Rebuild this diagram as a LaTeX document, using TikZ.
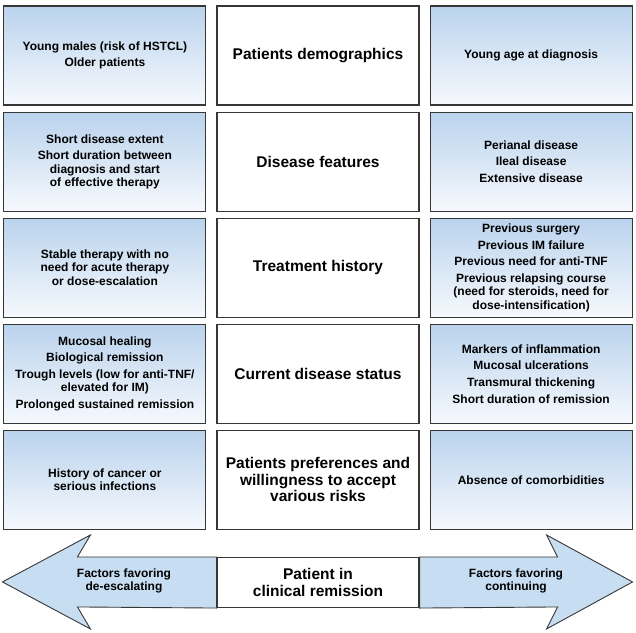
\documentclass[tikz,border=0pt]{standalone}
\usepackage{fontspec}
\setmainfont{Liberation Sans}
\usetikzlibrary{positioning}
\definecolor{factorblue}{RGB}{186, 211, 237}
\definecolor{fadeblue}{RGB}{246, 249, 253}
\definecolor{arrowblue}{RGB}{199, 221, 242}
\definecolor{edgegray}{RGB}{55, 55, 55}
\tikzset{
  cellbase/.style={draw=edgegray, line width=1.1pt, minimum width=202pt, minimum height=99pt, align=center, inner sep=2pt},
  factorbox/.style={cellbase, top color=factorblue, bottom color=fadeblue, font=\fontsize{12}{13.3}\selectfont\bfseries},
  domainbox/.style={cellbase, fill=white, font=\fontsize{15.5}{16.5}\selectfont\bfseries},
  arrowpart/.style={draw=edgegray, line width=0.9pt, fill=arrowblue},
  arrowtext/.style={font=\fontsize{12}{12.5}\selectfont\bfseries, align=center}
}

\begin{document}
\begin{tikzpicture}[x=1pt, y=1pt]
  \useasboundingbox (0,0) rectangle (636,632);

  % Middle column: the domains
  \node[domainbox] (demo) at (318, 576.5) {Patients demographics};
  \node[domainbox, below=6pt of demo] (feat) {Disease features};
  \node[domainbox, below=6pt of feat] (treat) {Treatment history};
  \node[domainbox, below=6pt of treat] (status) {Current disease status};
  \node[domainbox, below=6pt of status] (pref) {Patients preferences and\\willingness to accept\\various risks};

  % Left column: favoring de-escalating
  \node[factorbox, left=10pt of demo] (demoL) {Young males (risk of HSTCL)\\[3.4pt]Older patients};
  \node[factorbox, left=10pt of feat] (featL) {Short disease extent\\[3.4pt]Short duration between\\diagnosis and start\\of effective therapy};
  \node[factorbox, left=10pt of treat] (treatL) {Stable therapy with no\\need for acute therapy\\or dose-escalation};
  \node[factorbox, left=10pt of status] (statusL) {Mucosal healing\\[3.4pt]Biological remission\\[3.4pt]Trough levels (low for anti-TNF/\\elevated for IM)\\[3.4pt]Prolonged sustained remission};
  \node[factorbox, left=10pt of pref] (prefL) {History of cancer or\\serious infections};

  % Right column: favoring continuing
  \node[factorbox, right=10pt of demo] (demoR) {Young age at diagnosis};
  \node[factorbox, right=10pt of feat] (featR) {Perianal disease\\[3.4pt]Ileal disease\\[3.4pt]Extensive disease};
  \node[factorbox, right=10pt of treat] (treatR) {Previous surgery\\[3.4pt]Previous IM failure\\[3.4pt]Previous need for anti-TNF\\[3.4pt]Previous relapsing course\\(need for steroids, need for\\dose-intensification)};
  \node[factorbox, right=10pt of status] (statusR) {Markers of inflammation\\[3.4pt]Mucosal ulcerations\\[3.4pt]Transmural thickening\\[3.4pt]Short duration of remission};
  \node[factorbox, right=10pt of pref] (prefR) {Absence of comorbidities};

  % Double arrow at the bottom
  \node[cellbase, fill=white, minimum height=50pt, font=\fontsize{15.5}{16.5}\selectfont\bfseries, below=27pt of pref] (remission) {Patient in\\clinical remission};
  \draw[arrowpart] (remission.north west) -- ++(-139,0) -- ++(13,22) -- ++(-88,-47) -- ++(88,-47) -- ++(-13,22) -- (remission.south west) -- cycle;
  \draw[arrowpart] (remission.north east) -- ++(138,0) -- ++(-11,22) -- ++(86,-47) -- ++(-86,-47) -- ++(11,22) -- (remission.south east) -- cycle;
  \node[arrowtext] (deesc) at (124, 51) {Factors favoring\\de-escalating};
  \node[arrowtext] (cont) at (516, 51) {Factors favoring\\continuing};
\end{tikzpicture}
\end{document}
